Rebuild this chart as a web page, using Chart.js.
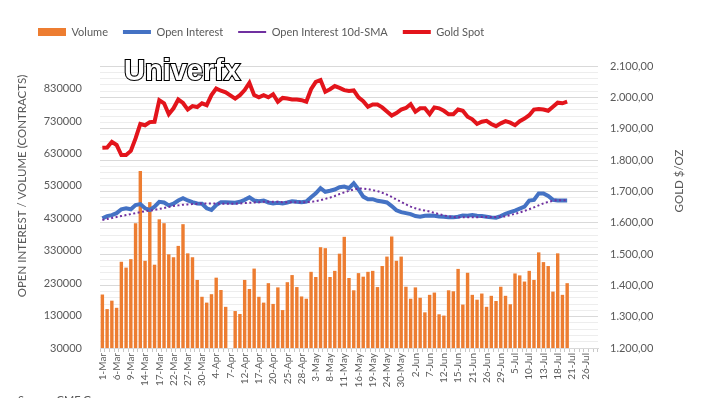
<!DOCTYPE html>
<html>
<head>
<meta charset="utf-8">
<script src="https://cdn.jsdelivr.net/npm/chart.js@4.4.1/dist/chart.umd.min.js"></script>
<style>
  html, body { margin: 0; padding: 0; background: #fff; }
  #wrap { width: 704px; height: 398px; position: relative; }
</style>
</head>
<body>
<div id="wrap"><canvas id="c"></canvas></div>
<script>
'use strict';
// Gold futures: volume + open interest (left axis) vs gold spot (right axis), business days Mar–Jul.
const DAYS = [
  '1-Mar', '2-Mar', '3-Mar', '6-Mar', '7-Mar', '8-Mar', '9-Mar', '10-Mar', '13-Mar', '14-Mar', '15-Mar', '16-Mar',
  '17-Mar', '20-Mar', '21-Mar', '22-Mar', '23-Mar', '24-Mar', '27-Mar', '28-Mar', '29-Mar', '30-Mar', '31-Mar',
  '3-Apr', '4-Apr', '5-Apr', '6-Apr', '7-Apr', '10-Apr', '11-Apr', '12-Apr', '13-Apr', '14-Apr', '17-Apr', '18-Apr',
  '19-Apr', '20-Apr', '21-Apr', '24-Apr', '25-Apr', '26-Apr', '27-Apr', '28-Apr',
  '1-May', '2-May', '3-May', '4-May', '5-May', '8-May', '9-May', '10-May', '11-May', '12-May', '15-May', '16-May',
  '17-May', '18-May', '19-May', '22-May', '23-May', '24-May', '25-May', '26-May', '30-May', '31-May',
  '1-Jun', '2-Jun', '5-Jun', '6-Jun', '7-Jun', '8-Jun', '9-Jun', '12-Jun', '13-Jun', '14-Jun', '15-Jun', '16-Jun',
  '20-Jun', '21-Jun', '22-Jun', '23-Jun', '26-Jun', '27-Jun', '28-Jun', '29-Jun', '30-Jun',
  '3-Jul', '5-Jul', '6-Jul', '7-Jul', '10-Jul', '11-Jul', '12-Jul', '13-Jul', '14-Jul', '17-Jul', '18-Jul', '19-Jul',
  '20-Jul', '21-Jul', '24-Jul', '25-Jul', '26-Jul', '27-Jul', '28-Jul',
];
// contrats
const VOLUME = [
  195000, 150000, 176000, 154000, 296000, 278000, 304000, 415000, 576000, 299000, 480000, 287000,
  427000, 415000, 319000, 310000, 345000, 412000, 322000, 310000, 240000, 188000, 170000,
  196000, 247000, 209000, 157000, null, 144000, 135000, 240000, 212000, 275000, 188000, 170000,
  230000, 166000, 217000, 147000, 233000, 255000, 218000, 189000,
  182000, 265000, 249000, 341000, 338000, 249000, 268000, 321000, 373000, 246000, 208000, 261000,
  250000, 265000, 268000, 218000, 283000, 312000, 374000, 299000, 312000, 219000,
  182000, 217000, 185000, 140000, 194000, 201000, 134000, 130000, 208000, 205000, 274000, 164000,
  262000, 194000, 179000, 198000, 157000, 191000, 175000, 219000, 191000,
  165000, 260000, 254000, 235000, 268000, 240000, 325000, 295000, 283000, 204000, 322000, 194000,
  230000,
];
const OPEN_INTEREST = [
  430000, 437000, 440000, 446000, 458000, 461000, 458000, 471000, 474000, 461000, 456000, 466000,
  481000, 479000, 470000, 475000, 485000, 492000, 485000, 480000, 476000, 475000, 461000,
  456000, 471000, 480000, 480000, null, 478000, 481000, 487000, 495000, 485000, 483000, 485000,
  479000, 476000, 478000, 476000, 479000, 483000, 481000, 480000,
  482000, 495000, 507000, 523000, 512000, 515000, 519000, 526000, 528000, 523000, 538000, 519000,
  497000, 489000, 489000, 484000, 482000, 479000, 468000, 455000, 449000, 446000,
  443000, 437000, 435000, 438000, 439000, 438000, 436000, 435000, 433000, 433000, 435000, 439000,
  438000, 440000, 438000, 437000, 435000, 433000, 432000, 437000, 444000,
  449000, 454000, 460000, 466000, 485000, 487000, 507000, 507000, 499000, 487000, 485000, 485000,
  485000,
];
const OI_SMA10 = [
  425000, 428000, 431000, 434000, 437000, 440000, 443000, 446000, 449000, 452000, 454000, 456000,
  459000, 462000, 465000, 468000, 470000, 472000, 473000, 474000, 475000, 476000, 476000,
  476000, 476000, 475000, 475000, null, 475000, 476000, 477000, 478000, 479000, 480000, 481000,
  481000, 481000, 481000, 480000, 480000, 480000, 480000, 480000,
  480000, 481000, 483000, 486000, 490000, 494000, 499000, 505000, 510000, 515000, 519000, 522000,
  522000, 520000, 517000, 514000, 509000, 503000, 496000, 488000, 481000, 473000,
  466000, 461000, 457000, 454000, 451000, 447000, 443000, 439000, 436000, 434000, 433000, 433000,
  433000, 433000, 433000, 434000, 434000, 434000, 434000, 435000, 436000,
  440000, 444000, 448000, 453000, 458000, 464000, 470000, 476000, 481000, 484000, 486000, 486000,
  486000,
];
// $/oz
const GOLD_SPOT = [
  1839, 1840, 1858, 1848, 1816, 1816, 1829, 1869, 1915, 1911, 1921, 1922,
  1991, 1981, 1946, 1965, 1993, 1982, 1961, 1972, 1969, 1981, 1975,
  2007, 2028, 2021, 2016, null, 1996, 2007, 2023, 2046, 2007, 2000, 2007,
  2000, 2010, 1986, 1998, 1996, 1993, 1993, 1991,
  1986, 2026, 2049, 2055, 2018, 2026, 2036, 2030, 2023, 2020, 2022, 2000,
  1988, 1970, 1977, 1977, 1968, 1955, 1942, 1950, 1961, 1966,
  1978, 1954, 1965, 1965, 1946, 1968, 1965, 1957, 1946, 1946, 1961, 1957,
  1938, 1930, 1915, 1922, 1925, 1915, 1908, 1917, 1924,
  1919, 1911, 1924, 1932, 1943, 1961, 1963, 1961, 1957, 1970, 1983, 1981,
  1986,
];
const LEFT_TICKS = [30000, 130000, 230000, 330000, 430000, 530000, 630000, 730000, 830000];
const RIGHT_TICKS = [1200, 1300, 1400, 1500, 1600, 1700, 1800, 1900, 2000, 2100];

const GREY = '#595959';
const FONT = 'Lato, "Liberation Sans", sans-serif';
Chart.defaults.font.family = FONT;
Chart.defaults.color = GREY;

const fGold = v => Math.floor(v / 1000) + '.' + String(v % 1000).padStart(3, '0') + ',00';

// legend plus haut : on rallonge sa boite pour descendre la zone de tracé
const legendGap = {
  id: 'legendGap',
  beforeLayout(chart) {
    const lg = chart.legend;
    if (!lg || lg._gapPatched) return;
    const fit = lg.fit;
    lg.fit = function () { fit.call(this); this.height += 18.5; };
    lg._gapPatched = true;
  },
};

// titres d'axes, filigrane, source
const overlayText = {
  id: 'overlayText',
  afterDraw(chart) {
    const ctx = chart.ctx;
    ctx.save();
    ctx.fillStyle = GREY;
    ctx.textAlign = 'center';
    ctx.textBaseline = 'middle';
    ctx.font = '11.5px ' + FONT;
    ctx.save(); ctx.translate(22, 186); ctx.rotate(-Math.PI / 2);
    ctx.fillText('OPEN INTEREST / VOLUME (CONTRACTS)', 0, 0); ctx.restore();
    ctx.save(); ctx.translate(679, 181); ctx.rotate(-Math.PI / 2);
    ctx.fillText('GOLD $/OZ', 0, 0); ctx.restore();
    ctx.textAlign = 'left';
    ctx.textBaseline = 'alphabetic';
    ctx.font = 'bold 29px "Liberation Sans", Arial, sans-serif';
    ctx.lineWidth = 2.2; ctx.strokeStyle = '#000'; ctx.fillStyle = '#fff';
    ctx.strokeText('Univerfx', 124, 80);
    ctx.fillText('Univerfx', 124, 80);
    ctx.font = '11px ' + FONT; ctx.fillStyle = GREY;
    ctx.fillText('Source: CME Group', 18, 404);
    ctx.restore();
  },
};

new Chart(document.getElementById('c'), {
  data: {
    labels: DAYS,
    datasets: [
      { type: 'bar', label: 'Volume', data: VOLUME, yAxisID: 'y', backgroundColor: '#ED7D31', borderWidth: 0,
        barPercentage: 0.72, categoryPercentage: 1, pointStyle: 'rect', order: 3 },
      { type: 'line', label: 'Open Interest', data: OPEN_INTEREST, yAxisID: 'y', borderColor: '#4472C4', backgroundColor: '#4472C4',
        borderWidth: 4, pointRadius: 0, tension: 0, spanGaps: true, pointStyle: 'line', order: 2 },
      { type: 'line', label: 'Open Interest 10d-SMA', data: OI_SMA10, yAxisID: 'y', borderColor: '#7030A0', backgroundColor: '#7030A0',
        borderWidth: 2, borderDash: [2, 2.5], pointRadius: 0, tension: 0, spanGaps: true, pointStyle: 'line', order: 1 },
      { type: 'line', label: 'Gold Spot', data: GOLD_SPOT, yAxisID: 'y2', borderColor: '#E3141B', backgroundColor: '#E3141B',
        borderWidth: 4, pointRadius: 0, tension: 0, spanGaps: true, pointStyle: 'line', order: 0 },
    ],
  },
  options: {
    responsive: true, maintainAspectRatio: false, animation: false,
    layout: { padding: { top: 11.5, left: 23, right: 0, bottom: 0 } },
    plugins: {
      legend: {
        position: 'top', align: 'start',
        labels: { usePointStyle: true, pointStyleWidth: 28, boxHeight: 8, padding: 15, color: GREY,
          font: { size: 11 },
          sort: (a, b) => a.datasetIndex - b.datasetIndex },
      },
      tooltip: { enabled: false },
    },
    scales: {
      x: {
        offset: true,
        grid: { drawOnChartArea: false, tickLength: 4, color: '#c8c8c8' },
        border: { color: '#d9d9d9' },
        ticks: { autoSkip: false, minRotation: 90, maxRotation: 90, padding: 1, font: { size: 10 }, color: GREY,
          callback: function (v, i) { return i % 3 === 0 ? this.getLabelForValue(v) : ''; } },
        afterFit: s => { s.height = 50; },
      },
      y: {
        position: 'left', min: 30000, max: 900000,
        afterBuildTicks: s => { s.ticks = LEFT_TICKS.map(v => ({ value: v })); },
        grid: { display: false }, border: { display: false },
        ticks: { autoSkip: false, padding: 10, font: { size: 11 }, color: GREY, callback: v => String(v) },
        afterFit: s => { s.width = 77; },
      },
      y2: {
        position: 'right', min: 1200, max: 2100,
        ticks: { autoSkip: false, stepSize: 20, maxTicksLimit: 60, padding: 12, font: { size: 11 }, color: GREY,
          callback: v => (RIGHT_TICKS.includes(v) ? fGold(v) : '') },
        grid: { drawTicks: false, color: c => (RIGHT_TICKS.includes(c.tick.value) ? '#d9d9d9' : '#ededed') },
        border: { display: false },
        afterFit: s => { s.width = 106; },
      },
    },
  },
  plugins: [legendGap, overlayText],
});
</script>
</body>
</html>
